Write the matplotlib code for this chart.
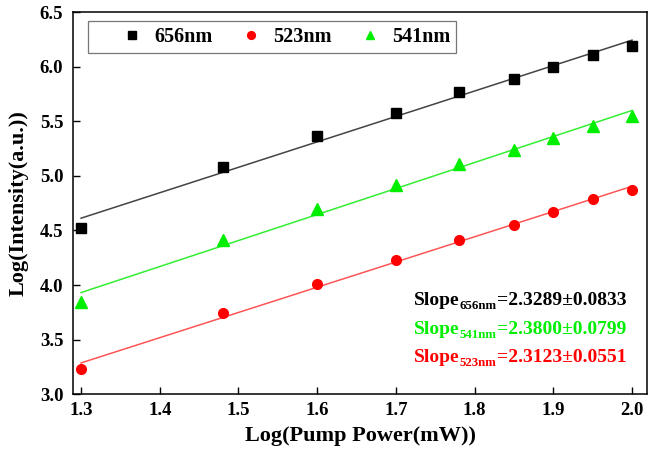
import matplotlib
matplotlib.use('Agg')
import matplotlib.pyplot as plt
import numpy as np

plt.rcParams['font.family'] = ['Liberation Serif', 'DejaVu Serif']
plt.rcParams['font.weight'] = 'bold'

log_power = [1.30, 1.48, 1.60, 1.70, 1.78, 1.85, 1.90, 1.95, 2.00]
i_656 = [4.52, 5.08, 5.37, 5.58, 5.77, 5.89, 6.00, 6.11, 6.19]
i_523 = [3.23, 3.74, 4.01, 4.23, 4.41, 4.55, 4.67, 4.79, 4.87]
i_541 = [3.84, 4.41, 4.70, 4.92, 5.11, 5.24, 5.35, 5.46, 5.55]

# name, values, colour, marker, marker size, fit line colour
series = [
    ('656nm', i_656, 'black', 's', 6.5, '#444444'),
    ('523nm', i_523, 'red', 'o', 7.0, '#ff5555'),
    ('541nm', i_541, '#00ee00', '^', 8.0, '#33ee33'),
]
# subscript, slope value, colour
slope_text = [
    ('656nm', '=2.3289±0.0833', 'black'),
    ('541nm', '=2.3800±0.0799', '#00ee00'),
    ('523nm', '=2.3123±0.0551', 'red'),
]

fig = plt.figure(figsize=(6.59, 4.53), dpi=100)
ax = fig.add_axes([0.1108, 0.130, 0.871, 0.843])

x = np.array(log_power)
for name, y, col, mk, ms, lcol in series:
    k, b = np.polyfit(x, y, 1)
    ax.plot(x, k * x + b, color=lcol, lw=1.1, zorder=2)
    ax.plot(x, y, ls='none', marker=mk, color=col, ms=ms, label=name, zorder=3)

# "Slope" + subscript + value, chained so each piece follows the previous one
for i, (sub, val, col) in enumerate(slope_text):
    t1 = ax.text(1.723, 3.816 - i * 0.262, 'Slope', color=col, fontsize=14,
                 fontweight='bold', va='baseline', ha='left')
    t2 = ax.annotate(sub, xy=(1, 0), xycoords=t1, color=col, fontsize=9.3,
                     fontweight='bold', va='baseline', ha='left')
    ax.annotate(val, xy=(1, 0), xycoords=(t2, t1), color=col, fontsize=14,
                fontweight='bold', va='bottom', ha='left')

ax.set_xlim(1.2898, 2.019)
ax.set_ylim(3.0, 6.5)
ax.set_xticks(np.arange(1.3, 2.01, 0.1))
ax.set_yticks(np.arange(3.0, 6.51, 0.5))
ax.xaxis.set_major_formatter(matplotlib.ticker.FormatStrFormatter('%.1f'))
ax.yaxis.set_major_formatter(matplotlib.ticker.FormatStrFormatter('%.1f'))
ax.tick_params(direction='in', length=5, width=1, labelsize=13.5)
ax.tick_params(axis='y', pad=7)
ax.tick_params(axis='x', pad=6)
for lab in ax.get_xticklabels() + ax.get_yticklabels():
    lab.set_fontweight('bold')
for sp in ax.spines.values():
    sp.set_linewidth(1.1)

ax.set_xlabel('Log(Pump Power(mW))', fontsize=16, fontweight='bold', labelpad=5)
ax.set_ylabel('Log(Intensity(a.u.))', fontsize=16, fontweight='bold', labelpad=8)

leg = ax.legend(loc='upper left', ncol=3, fontsize=14.5, frameon=True, fancybox=False,
                edgecolor='#555555', bbox_to_anchor=(0.026, 0.976), borderaxespad=0,
                borderpad=0.3, columnspacing=0.0, handletextpad=-0.8,
                markerscale=0.8, handlelength=3.8)
leg.get_frame().set_linewidth(0.9)
for t in leg.get_texts():
    t.set_fontweight('bold')

fig.savefig('out.png', dpi=100)
